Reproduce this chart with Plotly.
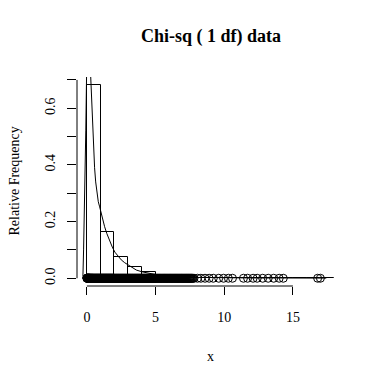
import plotly.graph_objects as go

# ---- data ----
bin_left = [0, 1, 2, 3, 4, 5, 6, 7, 8, 9, 10, 11, 12, 13, 14, 15, 16, 17]
bin_density = [0.683, 0.162, 0.074, 0.039, 0.022, 0.008, 0.004, 0.002, 0.001,
               0.001, 0.001, 0.001, 0.001, 0.0005, 0.0005, 0.0, 0.0, 0.001]

curve_x = [-0.31, -0.29, -0.24, -0.2, -0.17, -0.12, -0.08, -0.04, 0.0, 0.05, 0.12,
           0.2, 0.27, 0.33, 0.38, 0.44, 0.5, 0.56, 0.64, 0.73, 0.83, 0.93, 1.02,
           1.15, 1.29, 1.45, 1.65, 1.85, 2.04, 2.25, 2.5, 2.75, 3.0, 3.3, 3.6,
           4.0, 4.3, 4.6, 5.0, 5.5, 6.0, 7.0, 8.0, 9.0, 10.0, 12.0, 14.0, 16.0, 17.43]
curve_y = [0.0, 0.006, 0.1, 0.18, 0.24, 0.4, 0.52, 0.66, 0.8, 0.95, 0.9,
           0.8, 0.72, 0.66, 0.58, 0.5, 0.44, 0.39, 0.34, 0.3, 0.27, 0.252, 0.232,
           0.205, 0.182, 0.158, 0.133, 0.11, 0.092, 0.078, 0.065, 0.055, 0.047, 0.037, 0.029,
           0.023, 0.02, 0.016, 0.013, 0.01, 0.008, 0.005, 0.003, 0.002, 0.002, 0.001, 0.001, 0.001, 0.0005]

points_x = [
    0.00, 0.01, 0.02, 0.03, 0.04, 0.05, 0.06, 0.07, 0.08, 0.09, 0.10, 0.11, 0.12, 0.13,
    0.14, 0.15, 0.16, 0.17, 0.18, 0.19, 0.20, 0.22, 0.23, 0.25, 0.26, 0.28, 0.29, 0.31,
    0.32, 0.34, 0.35, 0.37, 0.39, 0.40, 0.42, 0.44, 0.45, 0.47, 0.49, 0.51, 0.53, 0.55,
    0.57, 0.59, 0.61, 0.63, 0.65, 0.67, 0.69, 0.71, 0.73, 0.75, 0.77, 0.79, 0.81, 0.83,
    0.85, 0.87, 0.89, 0.91, 0.93, 0.95, 0.97, 0.99, 1.01, 1.03, 1.05, 1.07, 1.09, 1.11,
    1.13, 1.15, 1.17, 1.19, 1.21, 1.23, 1.25, 1.27, 1.29, 1.31, 1.33, 1.35, 1.37, 1.39,
    1.41, 1.43, 1.45, 1.47, 1.49, 1.51, 1.53, 1.55, 1.57, 1.59, 1.61, 1.63, 1.65, 1.67,
    1.69, 1.71, 1.73, 1.75, 1.77, 1.79, 1.81, 1.83, 1.85, 1.87, 1.89, 1.91, 1.93, 1.95,
    1.97, 1.99, 2.02, 2.05, 2.08, 2.11, 2.14, 2.17, 2.20, 2.23, 2.26, 2.29, 2.32, 2.35,
    2.38, 2.41, 2.44, 2.47, 2.50, 2.53, 2.56, 2.59, 2.62, 2.65, 2.68, 2.71, 2.74, 2.77,
    2.80, 2.83, 2.86, 2.89, 2.92, 2.95, 2.98, 3.01, 3.04, 3.07, 3.10, 3.13, 3.16, 3.19,
    3.22, 3.25, 3.28, 3.31, 3.34, 3.37, 3.40, 3.43, 3.46, 3.49, 3.52, 3.55, 3.58, 3.61,
    3.64, 3.67, 3.70, 3.73, 3.76, 3.79, 3.82, 3.85, 3.88, 3.91, 3.94, 3.97, 4.00, 4.03,
    4.06, 4.09, 4.12, 4.15, 4.18, 4.21, 4.24, 4.27, 4.30, 4.33, 4.36, 4.39, 4.42, 4.45,
    4.48, 4.51, 4.54, 4.57, 4.60, 4.63, 4.66, 4.69, 4.72, 4.75, 4.78, 4.81, 4.84, 4.87,
    4.90, 4.93, 4.96, 4.99, 5.03, 5.07, 5.11, 5.15, 5.19, 5.23, 5.27, 5.31, 5.35, 5.39,
    5.43, 5.47, 5.51, 5.55, 5.59, 5.63, 5.67, 5.71, 5.75, 5.79, 5.83, 5.87, 5.91, 5.95,
    5.99, 6.03, 6.07, 6.11, 6.15, 6.19, 6.23, 6.27, 6.31, 6.35, 6.39, 6.43, 6.47, 6.51,
    6.55, 6.59, 6.63, 6.67, 6.71, 6.75, 6.79, 6.83, 6.87, 6.91, 6.95, 6.99, 7.03, 7.07,
    7.11, 7.15, 7.19, 7.23, 7.27, 7.31, 7.35, 7.39, 7.43, 7.47, 7.51, 7.55, 7.59, 7.63,
    7.68, 7.73, 7.80, 8.05, 8.30, 8.60, 8.90, 9.20, 9.60, 9.95, 10.3, 10.6,
    11.4, 11.7, 12.1, 12.4, 12.8, 13.2, 13.6, 14.0, 14.3, 16.8, 17.0]
points_y = [0.0] * len(points_x)

x_ticks = [0, 5, 10, 15]
y_ticks = [0.0, 0.1, 0.2, 0.3, 0.4, 0.5, 0.6, 0.7]
y_ticktext = ["0.0", "", "0.2", "", "0.4", "", "0.6", ""]

FONT = "Liberation Serif"

fig = go.Figure()
fig.add_trace(go.Bar(
    x=[b + 0.5 for b in bin_left], y=bin_density, width=1,
    marker=dict(color="rgba(0,0,0,0)", line=dict(color="black", width=1)),
))
fig.add_trace(go.Scatter(x=curve_x, y=curve_y, mode="lines",
                         line=dict(color="black", width=1)))
fig.add_trace(go.Scatter(x=points_x, y=points_y, mode="markers", cliponaxis=False,
                         marker=dict(symbol="circle-open", size=8,
                                     color="black", line=dict(width=1, color="black"))))

fig.update_layout(
    width=384, height=383,
    margin=dict(l=77, r=40, t=77, b=97, autoexpand=False),
    paper_bgcolor="white", plot_bgcolor="white",
    showlegend=False, bargap=0,
    font=dict(family=FONT, size=14, color="black"),
    xaxis=dict(range=[-0.72, 18.72], tickvals=x_ticks, ticks="outside", ticklen=8,
               tickcolor="black", showgrid=False, zeroline=False, showline=False,
               automargin=False,
               tickfont=dict(family=FONT, size=14), ticklabelstandoff=10),
    yaxis=dict(range=[-0.0273, 0.7103], tickvals=y_ticks, ticktext=y_ticktext,
               ticks="outside", ticklen=9, tickcolor="black", tickangle=-90,
               showgrid=False, zeroline=False, showline=False, automargin=False,
               tickfont=dict(family=FONT, size=14), ticklabelstandoff=6),
    shapes=[
        dict(type="line", xref="x", yref="paper", x0=x_ticks[0], x1=x_ticks[-1],
             y0=0, y1=0, line=dict(color="black", width=1)),
        dict(type="line", xref="paper", yref="y", x0=0, x1=0,
             y0=y_ticks[0], y1=y_ticks[-1], line=dict(color="black", width=1)),
    ],
    annotations=[
        dict(text="<b>Chi-sq ( 1 df) data</b>", xref="paper", yref="paper",
             x=0.5, y=1, yshift=41, showarrow=False, yanchor="middle",
             font=dict(family=FONT, size=18)),
        dict(text="x", xref="paper", yref="paper", x=0.5, y=0, yshift=-70,
             showarrow=False, yanchor="middle", font=dict(family=FONT, size=14)),
        dict(text="Relative Frequency", xref="paper", yref="paper", x=0, y=0.5,
             xshift=-63, textangle=-90, showarrow=False, xanchor="center",
             font=dict(family=FONT, size=14)),
    ],
)

fig.write_html("out.html", config={"displayModeBar": False},
               post_script="document.body.style.margin='0px';")
